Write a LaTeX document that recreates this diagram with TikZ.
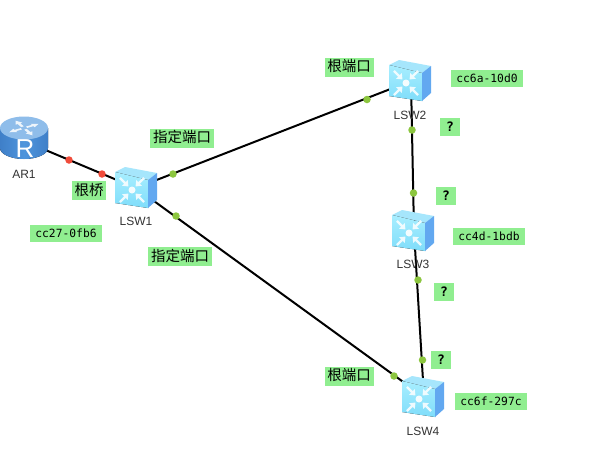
\documentclass[tikz,border=0pt]{standalone}
\usepackage{fontspec}
\setmainfont{Liberation Sans}
\newfontfamily\cjkf{Noto Sans CJK SC}
\newfontfamily\monof{DejaVu Sans Mono}
\definecolor{lab}{HTML}{90EE90}
\definecolor{dotg}{HTML}{8CC63F}
\definecolor{dotr}{HTML}{F04B3A}
\definecolor{swtop}{HTML}{A6E6FC}
\definecolor{swfront}{HTML}{A8EEFF}
\definecolor{swfrontb}{HTML}{7FDDFA}
\definecolor{swside}{HTML}{62A8F0}
\definecolor{rtop}{HTML}{8FBDEA}
\definecolor{rside}{HTML}{4F95DC}
\definecolor{rsideb}{HTML}{3F7FC8}
\tikzset{
  anchorbox/.style={inner sep=0pt,minimum width=2pt,minimum height=2pt},
  link/.style={draw=black,line width=2pt},
  port/.style={circle,inner sep=0pt,minimum size=7.5pt,fill=#1},
  cjklab/.style={fill=lab,inner sep=0pt,minimum height=19pt,text height=11.5pt,text depth=2.5pt,font=\cjkf\fontsize{14.5}{16}\selectfont,text=black},
  maclab/.style={fill=lab,inner sep=0pt,minimum width=72pt,minimum height=17pt,font=\monof\fontsize{11.3}{13}\selectfont,text=black},
  qlab/.style={fill=lab,inner sep=0pt,minimum width=20pt,minimum height=18pt,font=\monof\bfseries\fontsize{13}{14}\selectfont,text=black},
  devname/.style={inner sep=0pt,font=\fontsize{12}{14}\selectfont,text=black!80},
  pics/lswitch/.style={code={
    \fill[swtop] (-21,-16) -- (-11,-21) -- (21,-15) -- (12,-8) -- cycle;
    \fill[top color=swfront,bottom color=swfrontb] (-21,-16) -- (12,-8) -- (12,20) -- (-21,15) -- cycle;
    \fill[swside] (12,-8) -- (21,-15) -- (21,12) -- (12,20) -- cycle;
    \fill[white,opacity=.9] (-4,2) circle (3.5);
    \foreach \r in {45,135,225,315}{
      \begin{scope}[shift={(-4,2)},rotate=\r]
        \fill[white,opacity=.85] (5,0) -- (10,-4) -- (10,-1.2) -- (17,-1.2) -- (17,1.2) -- (10,1.2) -- (10,4) -- cycle;
      \end{scope}
    }
  }},
  pics/router/.style={code={
    \fill[left color=rsideb,right color=rsideb,middle color=rside] (-24,-10) -- (-24,10) arc[x radius=24,y radius=11,start angle=180,end angle=0] -- (24,-10) -- cycle;
    \fill[rtop] (0,-10) ellipse (24 and 11.5);
    \foreach \r in {30,120,210,300}{
      \begin{scope}[shift={(0,-10)},yscale=.5,rotate=\r]
        \fill[white,opacity=.85] (3,-1.5) -- (10,-1.5) -- (10,-4) -- (17,0) -- (10,4) -- (10,1.5) -- (3,1.5) -- cycle;
      \end{scope}
    }
    \node[inner sep=0pt,text=white,font=\fontsize{26}{28}\selectfont] at (1,11) {R};
  }}
}
\begin{document}
\begin{tikzpicture}[x=1pt,y=-1pt]
\useasboundingbox (0,0) rectangle (600,466);
\fill[white] (0,0) rectangle (600,466);
% device anchors
\node[anchorbox] (ar1) at (24,141) {};
\node[anchorbox] (lsw1) at (136,188) {};
\node[anchorbox] (lsw2) at (411,81) {};
\node[anchorbox] (lsw3) at (414,231) {};
\node[anchorbox] (lsw4) at (424,397) {};
% connectors
\draw[link] (ar1) -- (lsw1);
\draw[link] (lsw1) -- (lsw2);
\draw[link] (lsw1) -- (lsw4);
\draw[link] (lsw2) -- (lsw3);
\draw[link] (lsw3) -- (lsw4);
% devices
\pic at (24,138) {router};
\pic at (136,188) {lswitch};
\pic at (410,81) {lswitch};
\pic at (413,231) {lswitch};
\pic at (423,397) {lswitch};
% ports
\node[port=dotr] (p1) at (69,160) {};
\node[port=dotr] (p2) at (102,174) {};
\node[port=dotg] (p3) at (173,174) {};
\node[port=dotg] (p4) at (367,99.5) {};
\node[port=dotg] (p5) at (176,216) {};
\node[port=dotg] (p6) at (394,376) {};
\node[port=dotg] (p7) at (412,130) {};
\node[port=dotg] (p8) at (413.5,193) {};
\node[port=dotg] (p9) at (418,280) {};
\node[port=dotg] (p10) at (422.5,360) {};
% device names
\node[devname] (n1) at (24,174) {AR1};
\node[devname] (n2) at (136,221) {LSW1};
\node[devname] (n3) at (410,115) {LSW2};
\node[devname] (n4) at (413,264) {LSW3};
\node[devname] (n5) at (423,431) {LSW4};
% labels
\node[cjklab,minimum width=64pt] (l1) at (182,138) {指定端口};
\node[cjklab,minimum width=64pt] (l2) at (180,256.5) {指定端口};
\node[cjklab,minimum width=34pt] (l3) at (89,190.5) {根桥};
\node[cjklab,minimum width=49pt] (l4) at (349,67) {根端口};
\node[cjklab,minimum width=49pt] (l5) at (349,376) {根端口};
\node[maclab] (m1) at (66,233) {cc27-0fb6};
\node[maclab] (m2) at (487,78.5) {cc6a-10d0};
\node[maclab] (m3) at (489,236.5) {cc4d-1bdb};
\node[maclab] (m4) at (491,401) {cc6f-297c};
\node[qlab] (q1) at (450,127) {?};
\node[qlab] (q2) at (446,196) {?};
\node[qlab] (q3) at (444,292) {?};
\node[qlab] (q4) at (441,359.5) {?};
\end{tikzpicture}
\end{document}
